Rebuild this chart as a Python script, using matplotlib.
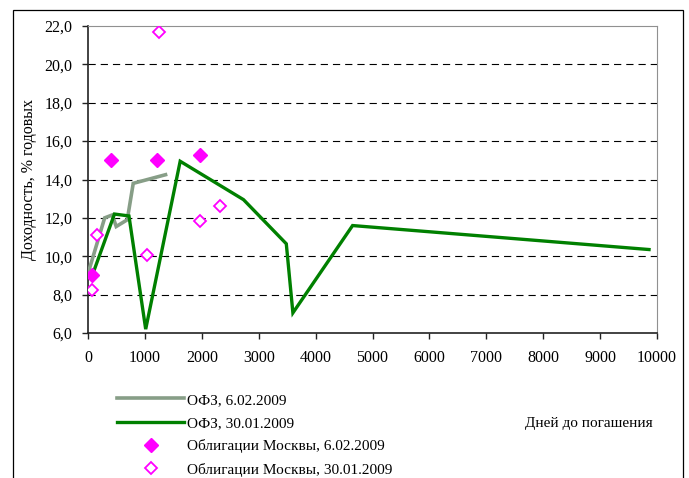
import matplotlib.pyplot as plt
from matplotlib.patches import Rectangle
from matplotlib.ticker import FuncFormatter

# OFZ yield curves (days to maturity, yield %)
ofz_0602_days = [10, 293, 426, 496, 690, 795, 1363]
ofz_0602_yield = [9.2, 12.0, 12.15, 11.55, 11.9, 13.8, 14.25]

ofz_3001_days = [87, 465, 720, 1014, 1620, 2733, 3485, 3601, 4650, 9860]
ofz_3001_yield = [9.1, 12.2, 12.1, 6.2, 14.95, 12.95, 10.65, 7.05, 11.6, 10.35]

# Moscow city bonds
msk_0602_days = [70, 402, 1212, 1976]
msk_0602_yield = [9.0, 15.0, 15.0, 15.3]

msk_3001_days = [70, 163, 1037, 1976, 2325, 1245]
msk_3001_yield = [8.25, 11.1, 10.05, 11.85, 12.6, 21.7]

labels = ['ОФЗ, 6.02.2009', 'ОФЗ, 30.01.2009',
          'Облигации Москвы, 6.02.2009', 'Облигации Москвы, 30.01.2009']

plt.rcParams['font.family'] = ['Liberation Serif', 'DejaVu Serif']

fig = plt.figure(figsize=(6.89, 4.78), dpi=100)
ax = fig.add_axes([88/689, 1-333/478, (657-88)/689, (333-26)/478])

# outer frame around the chart
fig.patches.append(Rectangle((13/689, -0.05), (683-13)/689, 1.05-10/478,
                             transform=fig.transFigure, fill=False,
                             edgecolor='black', linewidth=0.9))

l1, = ax.plot(ofz_0602_days, ofz_0602_yield, color='#879e87', linewidth=2.6,
              solid_joinstyle='miter', zorder=3)
l2, = ax.plot(ofz_3001_days, ofz_3001_yield, color='#008000', linewidth=2.4,
              solid_joinstyle='miter', zorder=4)
s1, = ax.plot(msk_0602_days, msk_0602_yield, linestyle='none', marker='D',
              markersize=7.5, color='#ff00ff', zorder=5)
s2, = ax.plot(msk_3001_days, msk_3001_yield, linestyle='none', marker='D',
              markersize=6, markerfacecolor='white', markeredgecolor='#ff00ff',
              markeredgewidth=1.3, zorder=5)

ax.set_xlim(0, 10000)
ax.set_ylim(6, 22)
ax.set_xticks(range(0, 10001, 1000))
ax.set_yticks(range(6, 23, 2))
ax.yaxis.set_major_formatter(FuncFormatter(lambda v, p: f'{v:.1f}'.replace('.', ',')))

for y in range(8, 21, 2):
    ax.axhline(y, color='black', linewidth=0.8, linestyle=(0, (6.5, 4.5)), zorder=1)

ax.spines['top'].set_color('#909090')
ax.spines['right'].set_color('#909090')
ax.spines['left'].set_color('#222222')
ax.spines['bottom'].set_color('#222222')
ax.spines['left'].set_linewidth(1.2)
ax.spines['bottom'].set_linewidth(1.2)
ax.tick_params(axis='both', direction='out', length=4, width=1, color='#222222',
               labelsize=11.5)
ax.tick_params(axis='x', pad=8)
ax.tick_params(axis='y', pad=7)

ax.set_ylabel('Доходность, % годовых', fontsize=11.5)
ax.yaxis.set_label_coords(-0.09, 0.5)

fig.legend([l1, l2, s1, s2], labels, loc='upper left',
           bbox_to_anchor=(117/689, 1-393/478), frameon=False, fontsize=11,
           handlelength=4.4, handletextpad=0.2, labelspacing=0.62,
           borderpad=0, borderaxespad=0)

fig.text(525/689, 1-423/478, 'Дней до погашения', fontsize=11,
         ha='left', va='center')

fig.savefig('out.png', dpi=100)
